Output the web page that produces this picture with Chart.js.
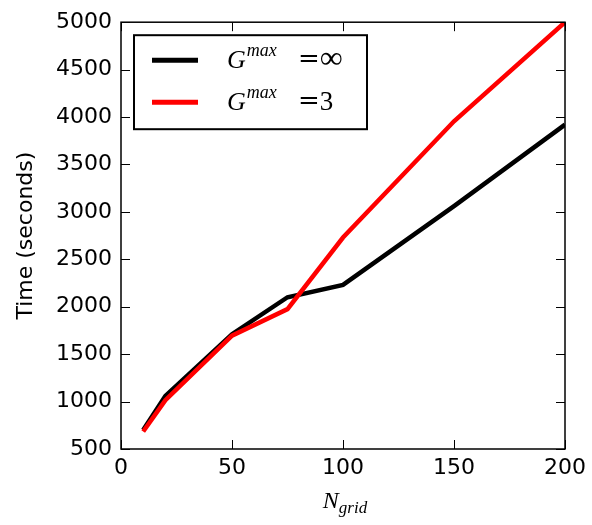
<!DOCTYPE html>
<html>
<head>
<meta charset="utf-8">
<script src="https://cdn.jsdelivr.net/npm/chart.js@4.4.0/dist/chart.umd.min.js"></script>
<style>
  html, body { margin: 0; padding: 0; background: #fff; }
  #wrap { width: 592px; height: 525px; }
</style>
</head>
<body>
<div id="wrap"><canvas id="chart" width="592" height="525"></canvas></div>
<script>
// values
const nGrid = [10, 20, 50, 75, 100, 150, 200];
const timeInf = [700, 1060, 1710, 2100, 2230, 3060, 3920];
const time3 = [685, 1015, 1695, 1975, 2730, 3955, 5000];
const xTicks = [0, 50, 100, 150, 200];
const yTicks = [500, 1000, 1500, 2000, 2500, 3000, 3500, 4000, 4500, 5000];

const legendItems = [
  { color: '#000000', rhs: '\u221E', size: 32 },
  { color: '#ff0000', rhs: '3', size: 27 },
];

// frame, inward ticks, legend and axis titles in matplotlib style
const framePlugin = {
  id: 'framePlugin',
  afterDraw(chart) {
    const { ctx, chartArea: a, scales } = chart;
    ctx.save();
    ctx.strokeStyle = '#000';
    ctx.lineWidth = 1.5;
    ctx.strokeRect(a.left, a.top, a.right - a.left, a.bottom - a.top);

    const tl = 9;
    ctx.lineWidth = 1;
    ctx.beginPath();
    xTicks.forEach(v => {
      const x = Math.round(scales.x.getPixelForValue(v)) + 0.5;
      ctx.moveTo(x, a.bottom); ctx.lineTo(x, a.bottom - tl);
      ctx.moveTo(x, a.top); ctx.lineTo(x, a.top + tl);
    });
    yTicks.forEach(v => {
      const y = Math.round(scales.y.getPixelForValue(v)) + 0.5;
      ctx.moveTo(a.left, y); ctx.lineTo(a.left + tl, y);
      ctx.moveTo(a.right, y); ctx.lineTo(a.right - tl, y);
    });
    ctx.stroke();

    // legend
    const bx = a.left + 13, by = a.top + 13, bw = 233, bh = 94;
    ctx.fillStyle = '#fff';
    ctx.fillRect(bx, by, bw, bh);
    ctx.lineWidth = 2;
    ctx.strokeStyle = '#000';
    ctx.strokeRect(bx, by, bw, bh);
    legendItems.forEach((it, i) => {
      const ly = by + 25 + i * 42;
      ctx.strokeStyle = it.color;
      ctx.lineWidth = 5;
      ctx.beginPath();
      ctx.moveTo(bx + 18, ly); ctx.lineTo(bx + 64, ly);
      ctx.stroke();
      const base = ly + 8;
      let x = bx + 93;
      ctx.fillStyle = '#000';
      ctx.textBaseline = 'alphabetic';
      ctx.textAlign = 'left';
      ctx.font = 'italic 26px "Liberation Serif"';
      ctx.fillText('G', x, base);
      x += ctx.measureText('G').width + 1;
      ctx.font = 'italic 18px "Liberation Serif"';
      ctx.fillText('max', x, base - 12);
      x = bx + 164;
      ctx.font = '26px "DejaVu Serif"';
      ctx.fillText('=', x, base - 1);
      x += ctx.measureText('=').width;
      ctx.font = it.size + 'px "Liberation Serif"';
      ctx.fillText(it.rhs, x, base);
    });

    // x title N_grid
    const cx = (a.left + a.right) / 2;
    ctx.fillStyle = '#000';
    ctx.font = 'italic 24px "Liberation Serif"';
    const wN = ctx.measureText('N').width;
    ctx.font = 'italic 17px "Liberation Serif"';
    const wSub = ctx.measureText('grid').width;
    const tx = cx - (wN + wSub) / 2 + 2;
    ctx.font = 'italic 24px "Liberation Serif"';
    ctx.fillText('N', tx, 508);
    ctx.font = 'italic 17px "Liberation Serif"';
    ctx.fillText('grid', tx + wN, 513);

    // y title
    ctx.translate(26, (a.top + a.bottom) / 2);
    ctx.rotate(-Math.PI / 2);
    ctx.textAlign = 'center';
    ctx.textBaseline = 'middle';
    ctx.font = '22px "DejaVu Sans"';
    ctx.fillText('Time (seconds)', 0, 0);
    ctx.restore();
  }
};

new Chart(document.getElementById('chart'), {
  type: 'line',
  data: {
    datasets: [
      {
        label: 'G^max = inf',
        data: nGrid.map((x, i) => ({ x: x, y: timeInf[i] })),
        borderColor: '#000000',
        borderWidth: 4.5,
        pointRadius: 0,
        tension: 0,
        order: 2,
      },
      {
        label: 'G^max = 3',
        data: nGrid.map((x, i) => ({ x: x, y: time3[i] })),
        borderColor: '#ff0000',
        borderWidth: 4.5,
        pointRadius: 0,
        tension: 0,
        order: 1,
      },
    ],
  },
  options: {
    responsive: false,
    animation: false,
    layout: { padding: { left: 0, top: 22, right: 27, bottom: 0 } },
    plugins: {
      legend: { display: false },
      tooltip: { enabled: false },
    },
    scales: {
      x: {
        type: 'linear',
        min: 0,
        max: 200,
        afterFit: (s) => { s.height = 76; },
        afterBuildTicks: (s) => { s.ticks = xTicks.map(v => ({ value: v })); },
        grid: { display: false, drawTicks: false },
        border: { display: false },
        ticks: {
          color: '#000', font: { family: 'DejaVu Sans', size: 22 }, padding: 6, maxRotation: 0,
          callback: (v) => String(v),
        },
      },
      y: {
        type: 'linear',
        min: 500,
        max: 5000,
        afterFit: (s) => { s.width = 121; },
        afterBuildTicks: (s) => { s.ticks = yTicks.map(v => ({ value: v })); },
        grid: { display: false, drawTicks: false },
        border: { display: false },
        ticks: {
          color: '#000', font: { family: 'DejaVu Sans', size: 22 }, padding: 9,
          callback: (v) => String(v),
        },
      },
    },
  },
  plugins: [framePlugin],
});
</script>
</body>
</html>
